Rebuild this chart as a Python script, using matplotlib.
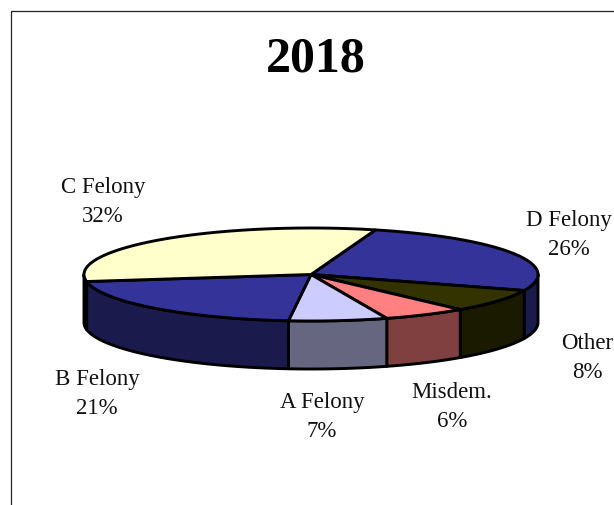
import numpy as np
import matplotlib
matplotlib.use("Agg")
import matplotlib.pyplot as plt
from matplotlib.patches import Polygon

# Data (clockwise from the first slice)
categories = ["D Felony", "Other", "Misdem.", "A Felony", "B Felony", "C Felony"]
values = [26, 8, 6, 7, 21, 32]
title = "2018"

# Styles
top_colors = ["#333399", "#333300", "#FF8080", "#CCCCFF", "#333399", "#FFFFCC"]
side_colors = ["#1A1A4D", "#1A1A00", "#804040", "#666680", "#1A1A4D", "#1A1A4D"]

# Layout (pixels)
W, H = 614, 505
CX, CY, RX, RY, DEPTH = 311, 274.5, 227, 46.5, 48
START = 73.5
LW = 2.1
label_pos = {
    "D Felony": (569, 235), "Other": (587, 358), "Misdem.": (452, 407),
    "A Felony": (322, 417), "B Felony": (97, 394), "C Felony": (103, 202),
}

plt.rcParams["font.family"] = ["Liberation Serif", "DejaVu Serif"]
fig = plt.figure(figsize=(W / 100, H / 100), dpi=100)
ax = fig.add_axes([0, 0, 1, 1])
ax.set_xlim(0, W)
ax.set_ylim(H, 0)
ax.axis("off")


def rim(t0, t1, dy=0.0):
    t = np.radians(np.linspace(t0, t1, max(int(abs(t1 - t0)) * 2, 2) + 1))
    return np.column_stack([CX + RX * np.cos(t), CY + dy - RY * np.sin(t)])


shares = np.array(values, dtype=float) / np.sum(values) * 360.0
ends = START - np.cumsum(shares)
starts = ends + shares

# Side walls: only the part of each slice on the near half of the rim
for s, e, col in zip(starts, ends, side_colors):
    for lo, hi in [(-180.0, 0.0), (-540.0, -360.0)]:
        a, b = min(s, hi), max(e, lo)
        if a > b:
            pts = np.vstack([rim(a, b), rim(b, a, DEPTH)])
            ax.add_patch(Polygon(pts, closed=True, fc=col, ec="black",
                                 lw=LW, joinstyle="round", zorder=2))

# Top faces
for s, e, col in zip(starts, ends, top_colors):
    pts = np.vstack([[CX, CY], rim(s, e)])
    ax.add_patch(Polygon(pts, closed=True, fc=col, ec="black",
                         lw=LW, joinstyle="round", zorder=3))

# Labels
for name, v in zip(categories, values):
    x, y = label_pos[name]
    ax.text(x, y, f"{name}\n{v}%", ha="center", va="center", fontsize=16.5,
            color="#111111", linespacing=1.55, multialignment="center",
            zorder=5)

ax.text(316, 59, title, ha="center", va="center", fontsize=36,
        fontweight="bold", color="black", zorder=5)

# Chart frame (top and left edges only are in view)
ax.plot([10.5, 10.5, W], [H, 10.5, 10.5], color="#222222", lw=0.9, zorder=1)

fig.savefig("out.png", dpi=100, facecolor="white")
